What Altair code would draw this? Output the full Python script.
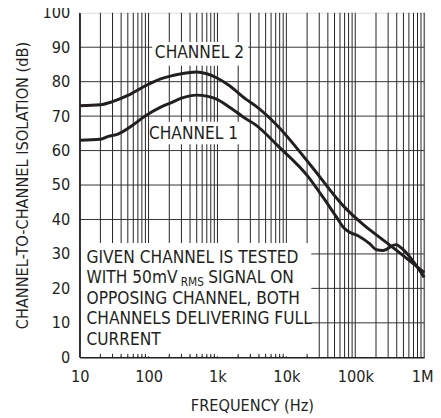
import altair as alt
import pandas as pd

# ---- data ----
freq_ch1 = [10, 20, 26, 36, 60, 86, 150, 207, 300, 495, 700, 955, 1500, 2550, 3500, 7600,
            20400, 35000, 54600, 68000, 84500, 111000, 163000, 203000, 252000, 389000, 486000, 1000000]
iso_ch1 = [63.0, 63.3, 64.1, 64.8, 67.5, 69.8, 72.6, 73.8, 75.2, 76.1, 75.8, 75.0, 72.6, 69.3, 67.6, 61.3,
           52.6, 46.1, 40.4, 37.6, 36.2, 35.2, 32.9, 31.2, 31.0, 32.7, 31.4, 23.2]

freq_ch2 = [10, 20, 30, 50, 86, 150, 207, 300, 495, 700, 955, 1500, 2550, 3500, 7600,
            22800, 68000, 131000, 252000, 389000, 1000000]
iso_ch2 = [73.0, 73.3, 74.2, 76.0, 78.6, 80.8, 81.6, 82.3, 82.8, 82.3, 81.2, 78.8, 75.0, 73.1, 67.0,
           55.6, 43.8, 38.5, 34.1, 31.2, 24.6]

x_ticks = [10, 100, 1000, 10000, 100000, 1000000]
y_ticks = [0, 10, 20, 30, 40, 50, 60, 70, 80, 90, 100]
grid_freqs = [m * 10 ** e for e in range(1, 6) for m in range(1, 10)] + [1000000]
grid_levels = [10, 20, 30, 40, 50, 60, 70, 80, 90]
inner_ticks = [m * 10 ** e for e in range(1, 4) for m in range(2, 10)] + [20000]

note_lines = ["GIVEN CHANNEL IS TESTED", "WITH 50mV", "OPPOSING CHANNEL, BOTH",
              "CHANNELS DELIVERING FULL", "CURRENT"]
note_levels = [28.8, 22.9, 16.95, 11.0, 4.9]
note_x = 12.58

label_text = ["CHANNEL 2", "CHANNEL 1"]
label_freq = [547, 449]
label_level = [88.4, 64.8]

# white boxes (freq from/to, level from/to)
box_f1 = [10.3, 113, 145]
box_f2 = [23000, 2800, 2700]
box_l1 = [0.3, 84.6, 61.8]
box_l2 = [33.2, 91.5, 68.4]

FONT = "Liberation Sans Narrow, Arial Narrow, DejaVu Sans Condensed, sans-serif"
INK = "#231f20"

x_scale = alt.Scale(type="log", domain=[10, 1000000], nice=False)
y_scale = alt.Scale(domain=[0, 100], nice=False, zero=False)

x_axis = alt.Axis(values=x_ticks, grid=False, ticks=False, domain=True, domainColor=INK,
                  domainWidth=1.5, labelFont=FONT, labelFontSize=16.5, labelColor=INK,
                  labelPadding=12, labelFlush=False, labelOverlap=False,
                  labelAlign={"condition": {"test": "datum.value >= 1000000", "value": "right"}, "value": "center"},
                  labelOffset={"condition": {"test": "datum.value >= 1000000", "value": 9}, "value": 0},
                  labelExpr="datum.value >= 1e6 ? '1M' : datum.value >= 1000 ? format(datum.value/1000, '.0f') + 'k' : format(datum.value, '.0f')",
                  title="FREQUENCY (Hz)", titleFont=FONT, titleFontSize=16.5, titleFontWeight="normal",
                  titleColor=INK, titlePadding=13, zindex=1)
y_axis = alt.Axis(values=y_ticks, grid=False, ticks=False, domain=True, domainColor=INK,
                  domainWidth=1.5, labelFont=FONT, labelFontSize=16.5, labelColor=INK,
                  labelPadding=10, labelFlush=False, labelOverlap=False,
                  title="CHANNEL-TO-CHANNEL ISOLATION (dB)", titleFont=FONT, titleFontSize=16.5,
                  titleFontWeight="normal", titleColor=INK, titlePadding=12, zindex=1)


def X(field):
    return alt.X(field, type="quantitative", scale=x_scale, axis=x_axis)


def Y(field):
    return alt.Y(field, type="quantitative", scale=y_scale, axis=y_axis)


vgrid = alt.Chart(pd.DataFrame({"f": grid_freqs})).mark_rule(color="#222222", strokeWidth=1).encode(x=X("f"))
hgrid = alt.Chart(pd.DataFrame({"l": grid_levels})).mark_rule(color="#333333", strokeWidth=1).encode(y=Y("l"))

boxes = alt.Chart(pd.DataFrame({"f1": box_f1, "f2": box_f2, "l1": box_l1, "l2": box_l2})).mark_rect(
    color="white").encode(x=X("f1"), x2="f2", y=Y("l1"), y2="l2")

ticks = alt.Chart(pd.DataFrame({"f": inner_ticks, "a": [0.0] * len(inner_ticks), "b": [1.0] * len(inner_ticks)})
                  ).mark_rule(color=INK, strokeWidth=1).encode(x=X("f"), y=Y("a"), y2="b")

curves_df = pd.DataFrame({
    "f": freq_ch1 + freq_ch2,
    "v": iso_ch1 + iso_ch2,
    "ch": ["1"] * len(freq_ch1) + ["2"] * len(freq_ch2),
})
curves = alt.Chart(curves_df).mark_line(color=INK, strokeWidth=3, interpolate="monotone").encode(
    x=X("f"), y=Y("v"), detail="ch:N")

labels = alt.Chart(pd.DataFrame({"t": label_text, "f": label_freq, "l": label_level})).mark_text(
    font=FONT, fontSize=17.5, color=INK, align="center", baseline="middle").encode(
    x=X("f"), y=Y("l"), text="t:N")

notes = alt.Chart(pd.DataFrame({"t": note_lines, "l": note_levels, "f": [note_x] * 5})).mark_text(
    font=FONT, fontSize=17.5, color=INK, align="left", baseline="middle").encode(
    x=X("f"), y=Y("l"), text="t:N")

rms = alt.Chart(pd.DataFrame({"t": ["RMS"], "l": [note_levels[1]], "f": [note_x]})).mark_text(
    font=FONT, fontSize=12, color=INK, align="left", baseline="middle", dx=96, dy=3.5).encode(
    x=X("f"), y=Y("l"), text="t:N")

sig = alt.Chart(pd.DataFrame({"t": ["SIGNAL ON"], "l": [note_levels[1]], "f": [note_x]})).mark_text(
    font=FONT, fontSize=17.5, color=INK, align="left", baseline="middle", dx=124).encode(
    x=X("f"), y=Y("l"), text="t:N")

chart = alt.layer(vgrid, hgrid, boxes, ticks, curves, labels, notes, rms, sig).properties(
    width=351, height=351,
    autosize="none",
    padding={"left": 73, "top": 1, "right": 9, "bottom": 58},
).configure_view(stroke=INK, strokeWidth=1.5).configure(background="white")

chart.save("out.html", embed_options={"renderer": "svg", "actions": False})
